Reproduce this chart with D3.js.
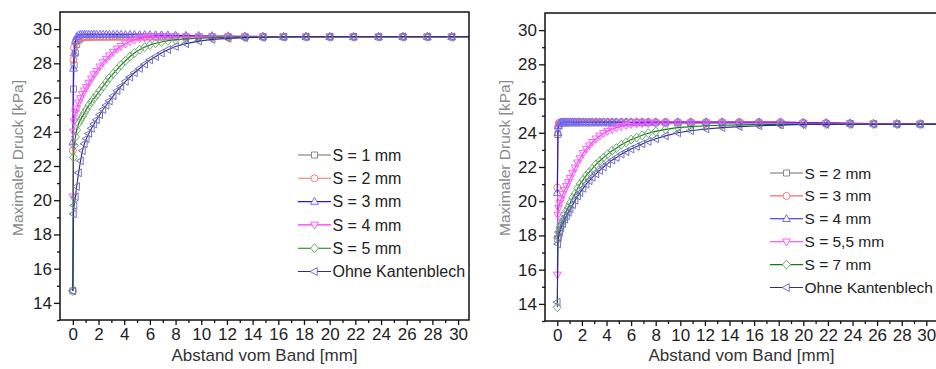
<!DOCTYPE html>
<html><head><meta charset="utf-8">
<script src="https://cdn.jsdelivr.net/npm/d3@7"></script>
<style>
body{margin:0;background:#fff}
svg{display:block}
text{font-family:"Liberation Sans",Arial,Helvetica,sans-serif}
</style>
</head><body>
<svg id="chart" width="936" height="369"></svg>
<script>
// ---------- data ----------
const xMesh = [0, 0.05, 0.1, 0.2, 0.3, 0.45, 0.6, 0.75, 0.9, 1.05, 1.25, 1.45, 1.65, 1.85, 2.1, 2.35, 2.6, 2.85, 3.15, 3.45, 3.75, 4.1, 4.45, 4.8, 5.2, 5.6, 6.0, 6.45, 6.9, 7.4, 8.0, 8.8, 9.8, 10.85, 12.1, 13.4, 14.8, 16.4, 18.15, 20.0, 21.85, 23.8, 25.7, 27.6, 29.5, 31.4];

const xTickValues = [0, 2, 4, 6, 8, 10, 12, 14, 16, 18, 20, 22, 24, 26, 28, 30];
const yTickValues = [14, 16, 18, 20, 22, 24, 26, 28, 30];

const leftLabels = ["S = 1 mm", "S = 2 mm", "S = 3 mm", "S = 4 mm", "S = 5 mm", "Ohne Kantenblech"];
const rightLabels = ["S = 2 mm", "S = 3 mm", "S = 4 mm", "S = 5,5 mm", "S = 7 mm", "Ohne Kantenblech"];

const yTitle = "Maximaler Druck [kPa]";
const xTitle = "Abstand vom Band [mm]";

// left chart series
const leftS1 = [14.7, 26.5, 27.9, 28.6, 29.1, 29.35, 29.45, 29.5, 29.52, 29.53, 29.54,
  29.55, 29.55, 29.55, 29.55, 29.55, 29.55, 29.55, 29.55, 29.55, 29.55, 29.55, 29.55, 29.55, 29.55, 29.55, 29.55, 29.55, 29.55, 29.55, 29.55, 29.55, 29.55, 29.55, 29.55, 29.55, 29.55, 29.55, 29.55, 29.55, 29.55, 29.55, 29.55, 29.55, 29.55, 29.55];
const leftS2 = [22.9, 28.2, 28.9, 29.25, 29.4, 29.48, 29.52, 29.54,
  29.55, 29.55, 29.55, 29.55, 29.55, 29.55, 29.55, 29.55, 29.55, 29.55, 29.55, 29.55, 29.55, 29.55, 29.55, 29.55, 29.55, 29.55, 29.55, 29.55, 29.55, 29.55, 29.55, 29.55, 29.55, 29.55, 29.55, 29.55, 29.55, 29.55, 29.55, 29.55, 29.55, 29.55, 29.55, 29.55, 29.55, 29.55];
const leftS3 = [23.4, 27.7, 28.6, 29.3, 29.55, 29.65, 29.67,
  29.68, 29.68, 29.68, 29.68, 29.68, 29.68, 29.68, 29.68, 29.68, 29.68, 29.68, 29.68, 29.68,
  29.67, 29.67, 29.67, 29.67, 29.66, 29.66, 29.66, 29.65, 29.65, 29.64, 29.63, 29.62, 29.61, 29.6, 29.59, 29.58, 29.57, 29.56,
  29.55, 29.55, 29.55, 29.55, 29.55, 29.55, 29.55, 29.55];
const leftS4 = [20.2, 24.0, 24.6, 25.1, 25.35, 25.7, 25.95, 26.2, 26.4, 26.6, 26.85, 27.1, 27.35, 27.55, 27.8, 28.05, 28.25, 28.45, 28.65, 28.85, 29.0, 29.15, 29.28, 29.38, 29.45, 29.5, 29.53, 29.55,
  29.56, 29.56, 29.56, 29.56, 29.56, 29.56, 29.56, 29.56, 29.56, 29.56, 29.55, 29.55, 29.55, 29.55, 29.55, 29.55, 29.55, 29.55];
const leftS5 = [14.7, 22.5, 23.2, 23.7, 24.1, 24.5, 24.7, 24.9, 25.1, 25.3, 25.55, 25.75, 25.95, 26.15, 26.4, 26.65, 26.9, 27.15, 27.4, 27.65, 27.9, 28.15, 28.4, 28.6, 28.8, 28.95, 29.07, 29.17, 29.25, 29.32, 29.38, 29.43, 29.47, 29.5, 29.52, 29.53, 29.54,
  29.55, 29.55, 29.55, 29.55, 29.55, 29.55, 29.55, 29.55, 29.55];
const leftOhne = [14.7, 19.2, 19.7, 20.2, 20.8, 21.6, 22.3, 22.9, 23.3, 23.6, 23.9, 24.2, 24.45, 24.7, 25.0, 25.3, 25.55, 25.8, 26.1, 26.4, 26.65, 26.95, 27.2, 27.45, 27.7, 27.95, 28.2, 28.4, 28.6, 28.8, 28.98, 29.15, 29.3, 29.4, 29.46, 29.5, 29.52, 29.54,
  29.55, 29.55, 29.55, 29.55, 29.55, 29.55, 29.55, 29.55];

// right chart series
const rightS2 = [17.8, 23.9, 24.4, 24.52, 24.56,
  24.58, 24.58, 24.58, 24.58, 24.58, 24.58, 24.58, 24.58, 24.58, 24.58, 24.58, 24.58, 24.58, 24.58, 24.58, 24.58, 24.58, 24.58, 24.58, 24.58, 24.58, 24.58, 24.58, 24.58, 24.58, 24.58, 24.58, 24.58, 24.58, 24.58, 24.58, 24.58, 24.58,
  24.57, 24.56, 24.55, 24.54, 24.53, 24.52, 24.51, 24.5];
const rightS3 = [20.8, 24.3, 24.55, 24.6, 24.62,
  24.63, 24.63, 24.63, 24.63, 24.63, 24.63, 24.63, 24.63, 24.63, 24.63, 24.63, 24.63, 24.63, 24.63, 24.63, 24.63, 24.63, 24.63, 24.63, 24.63, 24.63, 24.63, 24.63, 24.63, 24.63, 24.63, 24.63, 24.63, 24.63, 24.63, 24.63, 24.63, 24.63, 24.63,
  24.6, 24.58, 24.56, 24.54, 24.52, 24.51, 24.5];
const rightS4 = [20.5, 24.0, 24.4, 24.56, 24.6,
  24.62, 24.62, 24.62, 24.62, 24.62, 24.62, 24.62, 24.62, 24.62, 24.62, 24.62, 24.62, 24.62, 24.62, 24.62, 24.62, 24.62, 24.62, 24.62, 24.62, 24.62, 24.62, 24.62, 24.62, 24.62, 24.62, 24.62, 24.62, 24.62, 24.62, 24.62, 24.62, 24.62, 24.62,
  24.6, 24.58, 24.56, 24.54, 24.52, 24.51, 24.5];
const rightS55 = [15.7, 19.2, 19.6, 19.9, 20.1, 20.4, 20.65, 20.87, 21.1, 21.35, 21.65, 21.95, 22.25, 22.5, 22.8, 23.05, 23.25, 23.45, 23.65, 23.82, 23.97, 24.1, 24.2, 24.3, 24.38, 24.45, 24.5, 24.53, 24.55, 24.56,
  24.57, 24.57, 24.57, 24.57, 24.57, 24.57, 24.57, 24.57, 24.57,
  24.56, 24.55, 24.54, 24.53, 24.52, 24.51, 24.5];
const rightS7 = [13.8, 17.9, 18.2, 18.45, 18.65, 18.9, 19.2, 19.45, 19.65, 19.9, 20.2, 20.45, 20.75, 21.0, 21.25, 21.5, 21.7, 21.9, 22.15, 22.35, 22.55, 22.75, 22.95, 23.1, 23.3, 23.45, 23.6, 23.72, 23.85, 23.97, 24.08, 24.2, 24.3, 24.36, 24.41, 24.44, 24.46, 24.48, 24.49, 24.5,
  24.5, 24.5, 24.5, 24.5, 24.5, 24.5];
const rightOhne = [14.1, 17.5, 17.9, 18.2, 18.45, 18.7, 18.95, 19.15, 19.35, 19.55, 19.8, 20.05, 20.3, 20.5, 20.75, 21.0, 21.2, 21.4, 21.6, 21.8, 22.0, 22.2, 22.4, 22.55, 22.75, 22.9, 23.05, 23.2, 23.35, 23.5, 23.65, 23.82, 24.0, 24.12, 24.22, 24.3, 24.36, 24.41, 24.45, 24.48, 24.49,
  24.5, 24.5, 24.5, 24.5, 24.5];

// ---------- styles ----------
const styles = [
  {line: "#6e6e6e", mark: "#8a8a8a", shape: "square"},
  {line: "#ff6a6a", mark: "#ff7a7a", shape: "circle"},
  {line: "#1a1aff", mark: "#6f6fff", shape: "up"},
  {line: "#ff2cff", mark: "#ff5cff", shape: "down"},
  {line: "#0a800a", mark: "#74aa74", shape: "diamond"},
  {line: "#2b2b92", mark: "#7272ba", shape: "left"}
];

function markerPath(shape) {
  switch (shape) {
    case "square": return "M-3,-3H3V3H-3Z";
    case "circle": return "M3.5,0A3.5,3.5 0 1,1 -3.5,0A3.5,3.5 0 1,1 3.5,0Z";
    case "up": return "M0,-4.3L3.9,2.7L-3.9,2.7Z";
    case "down": return "M0,4.3L3.9,-2.7L-3.9,-2.7Z";
    case "diamond": return "M0,-4.5L4,0L0,4.5L-4,0Z";
    case "left": return "M-4.3,0L2.7,-3.9L2.7,3.9Z";
  }
}

const svg = d3.select("#chart");

function drawChart(cfg) {
  const x = d3.scaleLinear().domain([-1, cfg.xMax]).range([cfg.left, cfg.right]);
  const y = d3.scaleLinear().domain([13, 31]).range([cfg.bottom, cfg.top]);
  const g = svg.append("g");
  const clipId = "clip" + cfg.id;
  svg.append("defs").append("clipPath").attr("id", clipId)
    .append("rect").attr("x", cfg.left).attr("y", cfg.top)
    .attr("width", cfg.right - cfg.left).attr("height", cfg.bottom - cfg.top);

  const plot = g.append("g").attr("clip-path", `url(#${clipId})`);
  const line = d3.line().x((d, i) => x(xMesh[i])).y(d => y(d));

  cfg.series.forEach((vals, si) => {
    const st = styles[si];
    plot.append("path").datum(vals).attr("d", line)
      .attr("fill", "none").attr("stroke", st.line).attr("stroke-width", 1.1);
    plot.append("g").selectAll("path").data(vals).join("path")
      .attr("transform", (d, i) => `translate(${x(xMesh[i])},${y(d)})`)
      .attr("d", markerPath(st.shape))
      .attr("fill", "none").attr("stroke", st.mark).attr("stroke-width", 1);
  });

  // axes
  const xAxis = d3.axisBottom(x).tickValues(xTickValues).tickSize(5).tickPadding(3).tickFormat(d3.format("d"));
  const xMinor = d3.axisBottom(x).tickValues(d3.range(1, 31, 2)).tickSize(3).tickFormat("");
  const yAxis = d3.axisLeft(y).tickValues(yTickValues).tickSize(6).tickPadding(2).tickFormat(d3.format("d"));
  const yMinor = d3.axisLeft(y).tickValues(d3.range(13, 31, 2)).tickSize(3).tickFormat("");

  const gx = g.append("g").attr("transform", `translate(0,${cfg.bottom})`).call(xAxis);
  const gxm = g.append("g").attr("transform", `translate(0,${cfg.bottom})`).call(xMinor);
  const gy = g.append("g").attr("transform", `translate(${cfg.left},0)`).call(yAxis);
  const gym = g.append("g").attr("transform", `translate(${cfg.left},0)`).call(yMinor);
  [gx, gxm, gy, gym].forEach(a => {
    a.select(".domain").remove();
    a.selectAll("line").attr("stroke", "#111").attr("stroke-width", 1.3);
    a.selectAll("text").attr("font-size", 17).attr("fill", "#1e1e1e")
      .attr("font-family", '"Liberation Sans", Arial, sans-serif');
  });

  // frame
  g.append("rect").attr("x", cfg.left).attr("y", cfg.top)
    .attr("width", cfg.right - cfg.left).attr("height", cfg.bottom - cfg.top)
    .attr("fill", "none").attr("stroke", "#111").attr("stroke-width", 1.5);

  // titles
  g.append("text").attr("x", (cfg.left + cfg.right) / 2).attr("y", 361)
    .attr("text-anchor", "middle").attr("font-size", 17).attr("fill", "#333").text(xTitle);
  g.append("text").attr("transform", `translate(${cfg.yTitleX},158) rotate(-90)`)
    .attr("text-anchor", "middle").attr("dy", "0.35em").attr("font-size", 15.5).attr("fill", "#8a8a8a").text(yTitle);

  // legend
  const lg = svg.append("g");
  cfg.labels.forEach((lab, i) => {
    const st = styles[i];
    const yy = cfg.legY + i * cfg.legStep;
    lg.append("line").attr("x1", cfg.legX).attr("x2", cfg.legX + 33).attr("y1", yy).attr("y2", yy)
      .attr("stroke", st.line).attr("stroke-width", 1.1);
    lg.append("path").attr("transform", `translate(${cfg.legX + 16.5},${yy})`)
      .attr("d", markerPath(st.shape)).attr("fill", "#fff").attr("stroke", st.mark).attr("stroke-width", 1);
    lg.append("text").attr("x", cfg.legX + 34.5).attr("y", yy).attr("dy", "0.36em")
      .attr("font-size", cfg.legFont).attr("fill", "#222").text(lab);
  });
}

drawChart({
  id: "L", left: 60, right: 469, top: 12, bottom: 320, xMax: 30.85,
  series: [leftS1, leftS2, leftS3, leftS4, leftS5, leftOhne],
  labels: leftLabels, legX: 298, legY: 155, legStep: 23.3, yTitleX: 18, legFont: 16
});
drawChart({
  id: "R", left: 545, right: 938, top: 13, bottom: 321, xMax: 30.95,
  series: [rightS2, rightS3, rightS4, rightS55, rightS7, rightOhne],
  labels: rightLabels, legX: 770, legY: 173, legStep: 22.9, yTitleX: 505, legFont: 15.5
});
</script>
</body></html>
